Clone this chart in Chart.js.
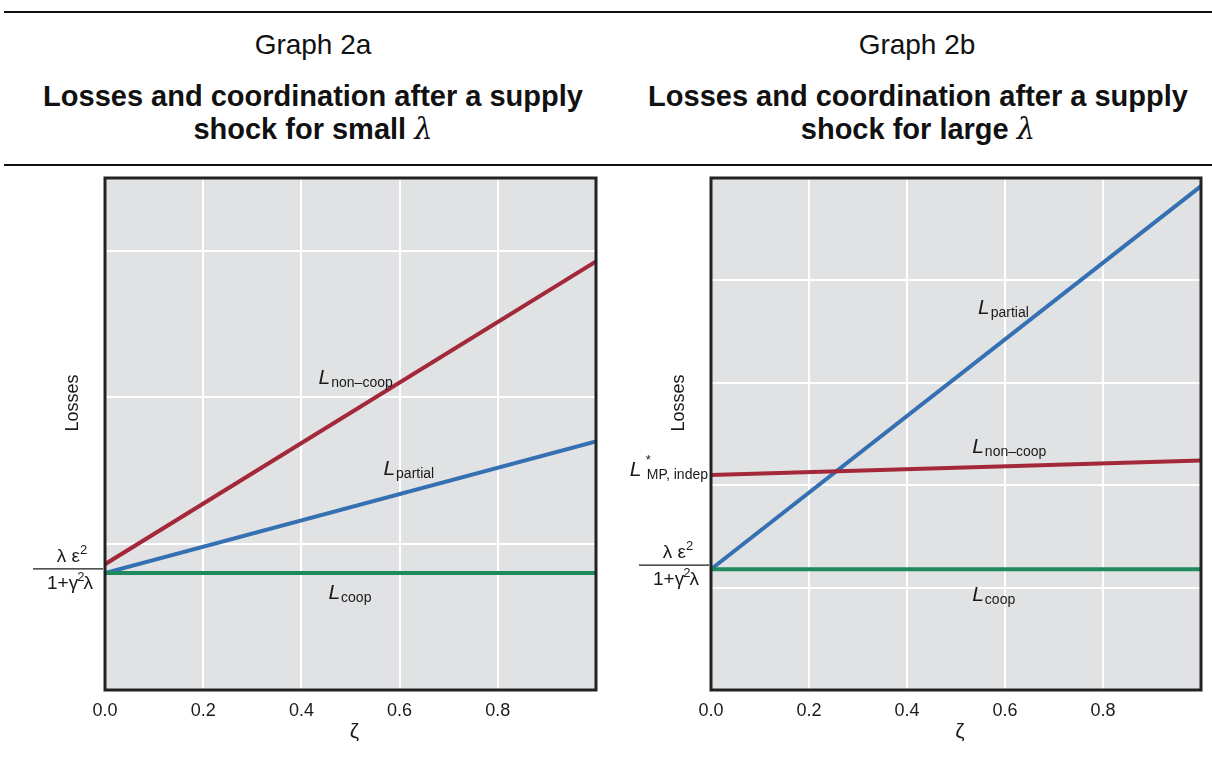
<!DOCTYPE html>
<html>
<head>
<meta charset="utf-8">
<script src="https://cdn.jsdelivr.net/npm/chart.js@4"></script>
<style>
body { margin: 0; background: #fff; font-family: "Liberation Sans", Arial, sans-serif; }
#page { position: relative; width: 1212px; height: 758px; overflow: hidden; }
.rule { position: absolute; left: 4px; right: 0; height: 2px; background: #111; }
.cap { position: absolute; width: 606px; text-align: center; color: #111; }
.num { font-size: 28px; top: 28px; line-height: 34px; }
.ttl { font-size: 29px; font-weight: bold; top: 80px; line-height: 33px; }
.lam { font-family: "DejaVu Serif", serif; font-style: italic; font-weight: normal; }
canvas { position: absolute; top: 170px; }
</style>
</head>
<body>
<div id="page">
  <div class="rule" style="top:11px"></div>
  <div class="rule" style="top:164px"></div>
  <div class="cap num" style="left:10px">Graph 2a</div>
  <div class="cap num" style="left:614px">Graph 2b</div>
  <div class="cap ttl" style="left:10px">Losses and coordination after a supply<br>shock for small <span class="lam">λ</span></div>
  <div class="cap ttl" style="left:615px">Losses and coordination after a supply<br>shock for large <span class="lam">λ</span></div>
  <canvas id="chartA" width="606" height="588" style="left:0"></canvas>
  <canvas id="chartB" width="606" height="588" style="left:606px"></canvas>
</div>
<script>
// zeta values at both ends of each line
const zeta = [0, 1];
const xTicks = [0, 0.2, 0.4, 0.6, 0.8];

// Graph 2a (small lambda)
const coopA = [0.80, 0.80];
const partialA = [0.80, 1.70];
const nonCoopA = [0.86, 2.93];

// Graph 2b (large lambda)
const coopB = [1.18, 1.18];
const partialB = [1.18, 4.92];
const nonCoopB = [2.10, 2.24];

const RED = '#a3283a';
const BLUE = '#3570b2';
const GREEN = '#1f8a5e';
const INK = '#1a1a1a';
const FONT = '"Liberation Sans", Arial';

function pts(vals) {
    return vals.map((v, i) => ({ x: zeta[i], y: v }));
}

// draw a row of text pieces (some raised) centred on cx
function drawRuns(ctx, runs, cx, y) {
    let total = 0;
    runs.forEach(r => {
        ctx.font = r.size + 'px ' + FONT;
        r.w = ctx.measureText(r.t).width;
        total += r.w + (r.gap || 0);
    });
    let x = cx - total / 2;
    ctx.textAlign = 'left';
    runs.forEach(r => {
        ctx.font = r.size + 'px ' + FONT;
        ctx.fillText(r.t, x, y - (r.up || 0));
        x += r.w + (r.gap || 0);
    });
}

function drawL(ctx, x, y, sub) {
    ctx.fillStyle = INK;
    ctx.textBaseline = 'alphabetic';
    ctx.textAlign = 'left';
    ctx.font = 'italic 21px ' + FONT;
    ctx.fillText('L', x, y + 7);
    const w = ctx.measureText('L').width;
    ctx.font = '14px ' + FONT;
    ctx.fillText(sub, x + w + 1, y + 10);
}

function drawFraction(ctx, right, y) {
    const left = right - 70;
    const cx = (left + right) / 2 + 2;
    ctx.strokeStyle = INK;
    ctx.lineWidth = 1.3;
    ctx.beginPath();
    ctx.moveTo(left, y);
    ctx.lineTo(right, y);
    ctx.stroke();
    ctx.fillStyle = INK;
    ctx.textBaseline = 'alphabetic';
    drawRuns(ctx, [
        { t: 'λ ε', size: 19 },
        { t: '2', size: 13, up: 8 }
    ], cx + 2, y - 7);
    drawRuns(ctx, [
        { t: '1+γ', size: 19, gap: -1 },
        { t: '2', size: 13, up: 8, gap: -1 },
        { t: 'λ', size: 19 }
    ], cx, y + 20);
}

const decor = {
    id: 'decor',
    beforeDraw(chart) {
        const a = chart.chartArea;
        const ctx = chart.ctx;
        ctx.save();
        ctx.fillStyle = '#e1e2e4';
        ctx.fillRect(a.left, a.top, a.right - a.left, a.bottom - a.top);
        ctx.restore();
    },
    afterDraw(chart, args, opts) {
        const a = chart.chartArea;
        const ctx = chart.ctx;
        const xs = chart.scales.x;
        const ys = chart.scales.y;
        ctx.save();
        ctx.strokeStyle = '#222';
        ctx.lineWidth = 3;
        ctx.strokeRect(a.left, a.top, a.right - a.left, a.bottom - a.top);

        opts.labels.forEach(l => {
            drawL(ctx, xs.getPixelForValue(l.x), ys.getPixelForValue(l.y), l.sub);
        });

        drawFraction(ctx, a.left - 2, ys.getPixelForValue(opts.fracAt) - 4);

        if (opts.indepAt !== undefined) {
            const y = ys.getPixelForValue(opts.indepAt);
            ctx.font = '14px ' + FONT;
            const sw = ctx.measureText('MP, indep').width;
            drawL(ctx, a.left - 3 - sw - 17, y - 6, '');
            ctx.fillStyle = INK;
            ctx.font = '13px ' + FONT;
            ctx.textAlign = 'left';
            ctx.fillText('*', a.left - 3 - sw - 1, y - 11);
            ctx.font = '14px ' + FONT;
            ctx.fillText('MP, indep', a.left - 3 - sw, y + 4);
        }

        ctx.fillStyle = INK;
        ctx.textAlign = 'center';
        ctx.textBaseline = 'middle';
        ctx.font = '21px ' + FONT;
        ctx.fillText('ζ', (a.left + a.right) / 2 + 4, a.bottom + 42);

        ctx.translate(a.left - 32, a.top + 225);
        ctx.rotate(-Math.PI / 2);
        ctx.font = '18px ' + FONT;
        ctx.fillText('Losses', 0, 0);
        ctx.restore();
    }
};

function makeChart(id, coop, partial, nonCoop, yMax, rightPad, labels, fracAt, indepAt) {
    return new Chart(document.getElementById(id), {
        type: 'line',
        data: {
            datasets: [
                { data: pts(coop), borderColor: GREEN },
                { data: pts(nonCoop), borderColor: RED },
                { data: pts(partial), borderColor: BLUE }
            ]
        },
        options: {
            responsive: false,
            animation: false,
            events: [],
            layout: { padding: { top: 8, right: rightPad, left: 0, bottom: 0 } },
            elements: {
                line: { borderWidth: 4, tension: 0, borderCapStyle: 'butt' },
                point: { radius: 0 }
            },
            plugins: {
                legend: { display: false },
                tooltip: { enabled: false },
                decor: { labels: labels, fracAt: fracAt, indepAt: indepAt }
            },
            scales: {
                x: {
                    type: 'linear',
                    min: 0,
                    max: 1,
                    afterBuildTicks: s => { s.ticks = xTicks.concat([1]).map(v => ({ value: v })); },
                    ticks: {
                        callback: v => v < 0.99 ? v.toFixed(1) : '',
                        font: { size: 18, family: FONT },
                        color: INK,
                        padding: 10,
                        maxRotation: 0
                    },
                    grid: { color: '#fff', lineWidth: 2, drawTicks: false },
                    border: { display: false },
                    afterFit: s => { s.height = 68; }
                },
                y: {
                    min: 0,
                    max: yMax,
                    ticks: { display: false, stepSize: 1 },
                    grid: { color: '#fff', lineWidth: 2, drawTicks: false },
                    border: { display: false },
                    afterFit: s => { s.width = 105; }
                }
            }
        },
        plugins: [decor]
    });
}

makeChart('chartA', coopA, partialA, nonCoopA, 3.5, 9, [
    { x: 0.435, y: 2.14, sub: 'non–coop' },
    { x: 0.567, y: 1.52, sub: 'partial' },
    { x: 0.455, y: 0.67, sub: 'coop' }
], coopA[0]);

makeChart('chartB', coopB, partialB, nonCoopB, 5, 11, [
    { x: 0.545, y: 3.74, sub: 'partial' },
    { x: 0.533, y: 2.38, sub: 'non–coop' },
    { x: 0.533, y: 0.94, sub: 'coop' }
], coopB[0], nonCoopB[0]);
</script>
</body>
</html>
